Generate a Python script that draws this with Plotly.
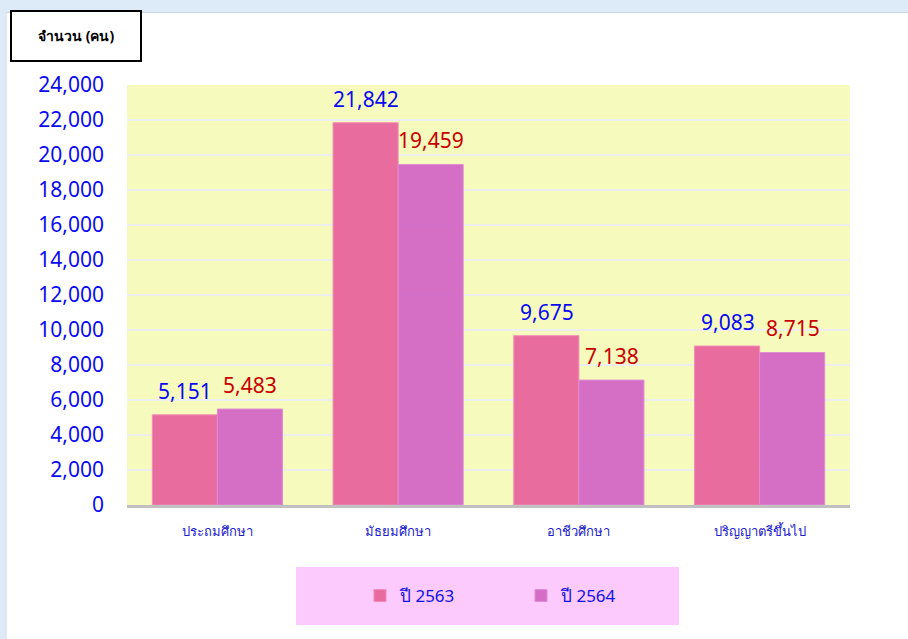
import plotly.graph_objects as go

categories = ["ประถมศึกษา", "มัธยมศึกษา", "อาชีวศึกษา", "ปริญญาตรีขึ้นไป"]
values_2563 = [5151, 21842, 9675, 9083]
values_2564 = [5483, 19459, 7138, 8715]
series_names = ["ปี 2563", "ปี 2564"]
y_ticks = list(range(0, 24001, 2000))

W, H = 908, 639
L, R, T, B = 127, 58, 85, 134
PW, PH = W - L - R, H - T - B


def px(x):
    return (x - L) / PW


def py(y):
    return (H - B - y) / PH


fig = go.Figure()
fig.add_trace(go.Bar(
    name=series_names[0], x=categories, y=values_2563,
    marker=dict(color="#E8689C", line=dict(color="#F08AB8", width=1)),
    opacity=0.97,
))
fig.add_trace(go.Bar(
    name=series_names[1], x=categories, y=values_2564,
    marker=dict(color="#D46BC6", line=dict(color="#E08AD6", width=1)),
    opacity=0.97,
))

annotations = []
for i, c in enumerate(categories):
    annotations.append(dict(x=c, y=values_2563[i], xref="x", yref="y", xshift=-32,
                            yanchor="bottom", yshift=8, showarrow=False,
                            text=f"{values_2563[i]:,}",
                            font=dict(family="Noto Sans", size=21, color="#0A0AF0")))
    annotations.append(dict(x=c, y=values_2564[i], xref="x", yref="y", xshift=33,
                            yanchor="bottom", yshift=8, showarrow=False,
                            text=f"{values_2564[i]:,}",
                            font=dict(family="Noto Sans", size=21, color="#C80000")))

annotations.append(dict(x=px(76), y=py(36), xref="paper", yref="paper",
                        xanchor="center", yanchor="middle",
                        text="<b>จำนวน (คน)</b>", showarrow=False,
                        font=dict(family="Noto Sans", size=14, color="#000000")))

shapes = [
    # top light-blue band
    dict(type="rect", xref="paper", yref="paper", x0=px(-5), x1=px(W + 5), y0=py(12), y1=py(-5),
         fillcolor="#DCEBF7", line=dict(width=0), layer="below"),
    dict(type="line", xref="paper", yref="paper", x0=px(6), x1=px(W + 5), y0=py(12.5), y1=py(12.5),
         line=dict(color="#CCD6E0", width=1), layer="below"),
    # left strip
    dict(type="rect", xref="paper", yref="paper", x0=px(-5), x1=px(5.5), y0=py(H + 5), y1=py(-5),
         fillcolor="#DCEBF7", line=dict(width=0), layer="below"),
    dict(type="line", xref="paper", yref="paper", x0=px(6), x1=px(6), y0=py(H + 5), y1=py(12),
         line=dict(color="#CCD6E0", width=1), layer="below"),
    # title box
    dict(type="rect", xref="paper", yref="paper", x0=px(11), x1=px(141), y0=py(61), y1=py(11),
         fillcolor="#FFFFFF", line=dict(color="#000000", width=2), layer="above"),
    # legend background
    dict(type="rect", xref="paper", yref="paper", x0=px(296), x1=px(679), y0=py(625), y1=py(567),
         fillcolor="#FCCAFC", line=dict(width=0), layer="below"),
]

fig.update_layout(
    width=W, height=H,
    margin=dict(l=L, r=R, t=T, b=B),
    paper_bgcolor="#FFFFFF",
    plot_bgcolor="#F7FABD",
    barmode="group", bargap=0.28, bargroupgap=0,
    showlegend=True,
    legend=dict(orientation="h", x=px(360), xanchor="left", y=py(596), yanchor="middle",
                bgcolor="rgba(0,0,0,0)", entrywidth=116, entrywidthmode="pixels",
                font=dict(family="Liberation Sans Narrow, Noto Sans", size=17, color="#1010E8")),
    xaxis=dict(showline=True, linecolor="#C0C0C0", linewidth=3, showgrid=False,
               ticks="", ticklabelstandoff=12,
               tickfont=dict(family="Liberation Sans Narrow, Noto Sans", size=13, color="#2020D0")),
    yaxis=dict(range=[0, 24000], tickvals=y_ticks, ticktext=[f"{v:,}" for v in y_ticks],
               showgrid=True, gridcolor="#EEEEEE", gridwidth=2, zeroline=False, showline=False,
               ticks="", ticklabelstandoff=22,
               tickfont=dict(family="Noto Sans", size=21, color="#0A0AF0")),
    annotations=annotations,
    shapes=shapes,
)

fig.write_html("out.html",
               config={"displayModeBar": False},
               post_script="document.body.style.margin='0';document.body.style.overflow='hidden';")
